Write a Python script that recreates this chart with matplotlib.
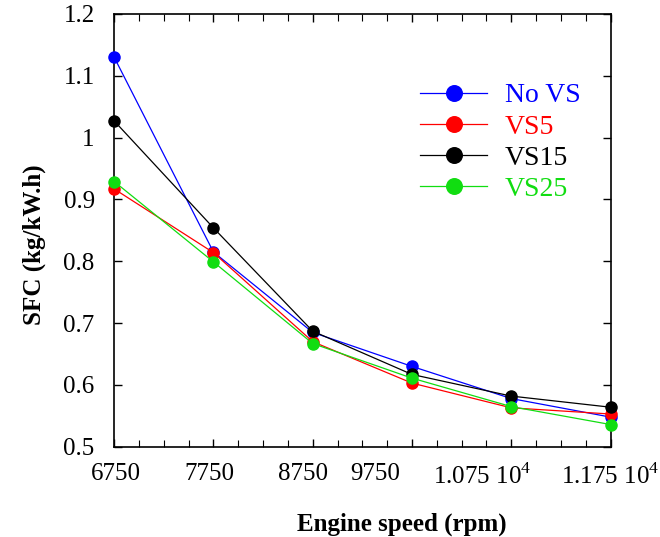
import numpy as np
import matplotlib.pyplot as plt
import matplotlib.transforms as mtransforms
from matplotlib.ticker import FixedLocator, MultipleLocator

plt.rcParams['font.family'] = ['Liberation Serif', 'DejaVu Serif']
plt.rcParams['mathtext.fontset'] = 'custom'
plt.rcParams['mathtext.rm'] = 'Liberation Serif'

# engine speed (rpm)
speed = [6750, 7750, 8750, 9750, 10750, 11750]

# specific fuel consumption (kg/kW.h)
sfc_no_vs = [1.130, 0.815, 0.685, 0.630, 0.578, 0.548]
sfc_vs5 = [0.917, 0.814, 0.670, 0.603, 0.563, 0.553]
sfc_vs15 = [1.027, 0.854, 0.687, 0.617, 0.582, 0.564]
sfc_vs25 = [0.929, 0.799, 0.667, 0.611, 0.565, 0.536]

series = [
    ("No VS", sfc_no_vs, "#0000ff"),
    ("VS5", sfc_vs5, "#ff0000"),
    ("VS15", sfc_vs15, "#000000"),
    ("VS25", sfc_vs25, "#11dd11"),
]

x_ticks = [6750, 7750, 8750, 9750, 10750, 11750]
x_tick_labels = ["6750", "7750", "8750", "9750", r"1.075 $10^4$", r"1.175 $10^4$"]
y_ticks = [0.5, 0.6, 0.7, 0.8, 0.9, 1.0, 1.1, 1.2]
y_tick_labels = ["0.5", "0.6", "0.7", "0.8", "0.9", "1", "1.1", "1.2"]

fig = plt.figure(figsize=(6.6, 5.37), dpi=100)
ax = fig.add_axes([0.173, 0.168, 0.752, 0.806])

for name, vals, col in series:
    ax.plot(speed, vals, color=col, lw=0.9, marker="o", markersize=8,
            label=name, clip_on=False, zorder=3)

ax.set_xlim(6750, 11750)
ax.set_ylim(0.5, 1.2)
ax.xaxis.set_major_locator(FixedLocator(x_ticks))
ax.set_xticklabels(x_tick_labels)
ax.xaxis.set_minor_locator(MultipleLocator(250))
ax.yaxis.set_major_locator(FixedLocator(y_ticks))
ax.set_yticklabels(y_tick_labels)

ax.tick_params(which="both", direction="in", top=True, right=True, labelsize=18)
ax.tick_params(which="major", length=6, width=1)
ax.tick_params(which="minor", length=5, width=0.8)
ax.tick_params(axis="x", pad=12)
ax.tick_params(axis="y", pad=14)
for s in ax.spines.values():
    s.set_linewidth(1.2)

# tick labels in the original are not centred on their ticks; nudge them (px)
label_shift = [2, -4, -10, -37, -29, 0]
for lab, dx in zip(ax.get_xticklabels(), label_shift):
    off = mtransforms.ScaledTranslation(dx / 100, 0, fig.dpi_scale_trans)
    lab.set_transform(lab.get_transform() + off)

ax.set_xlabel("Engine speed (rpm)", fontsize=18, fontweight="bold")
ax.set_ylabel("SFC (kg/kW.h)", fontsize=18, fontweight="bold")
ax.xaxis.set_label_coords(0.579, -0.151)
ax.yaxis.set_label_coords(-0.137, 0.466)

leg = ax.legend(loc="upper left", bbox_to_anchor=(0.617, 0.841), frameon=False,
                borderpad=0, borderaxespad=0, fontsize=20, handlelength=2.4,
                labelspacing=0.21, handletextpad=0.65, markerscale=1.4)
for txt, (_, _, col) in zip(leg.get_texts(), series):
    txt.set_color(col)

fig.savefig("out.png", dpi=100)
